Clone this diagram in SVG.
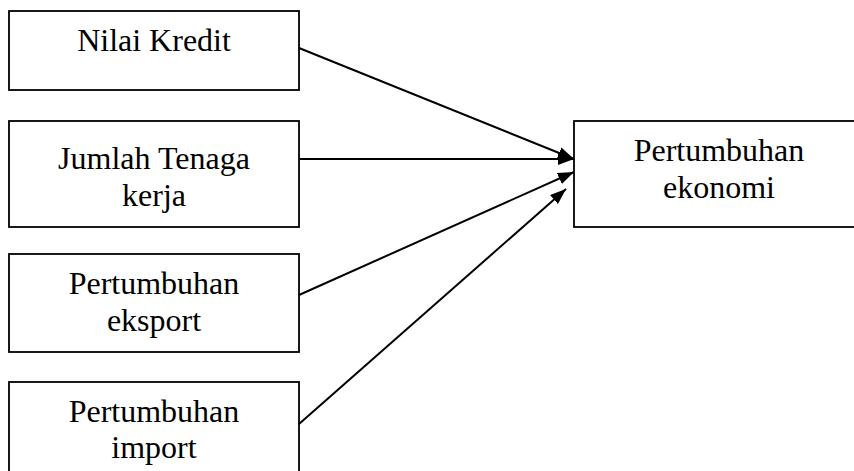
<svg xmlns="http://www.w3.org/2000/svg" width="854" height="471" viewBox="0 0 854 471">
<style>
.box{fill:#fff;stroke:#000;stroke-width:1.8}
.lbl{font-family:"Liberation Serif","Times New Roman",serif;font-size:32px;fill:#000;text-anchor:middle}
.conn{stroke:#000;stroke-width:2;fill:none}
</style>
<defs>
<marker id="ah" markerUnits="userSpaceOnUse" markerWidth="16" markerHeight="12" refX="16" refY="6" orient="auto">
<path d="M0,0 L16,6 L0,12 z" fill="#000"/>
</marker>
</defs>
<rect width="854" height="471" fill="#fff"/>
<g id="n1"><rect class="box" x="9" y="11" width="290" height="79"/><text class="lbl" x="154" y="51">Nilai Kredit</text></g>
<g id="n2"><rect class="box" x="9" y="121" width="290" height="106"/><text class="lbl" x="154" y="169">Jumlah Tenaga</text><text class="lbl" x="154" y="206">kerja</text></g>
<g id="n3"><rect class="box" x="9" y="254" width="290" height="98"/><text class="lbl" x="154" y="294">Pertumbuhan</text><text class="lbl" x="154" y="331">eksport</text></g>
<g id="n4"><rect class="box" x="9" y="382" width="290" height="100"/><text class="lbl" x="154" y="422">Pertumbuhan</text><text class="lbl" x="154" y="458">import</text></g>
<g id="n5"><rect class="box" x="574" y="121" width="290" height="106"/><text class="lbl" x="719" y="161">Pertumbuhan</text><text class="lbl" x="719" y="198">ekonomi</text></g>
<g id="connectors">
<line class="conn" x1="299" y1="48" x2="574" y2="159" marker-end="url(#ah)"/>
<line class="conn" x1="299" y1="159" x2="574" y2="159" marker-end="url(#ah)"/>
<line class="conn" x1="299" y1="295" x2="574" y2="172" marker-end="url(#ah)"/>
<line class="conn" x1="299" y1="424" x2="566" y2="189" marker-end="url(#ah)"/>
</g>
</svg>
